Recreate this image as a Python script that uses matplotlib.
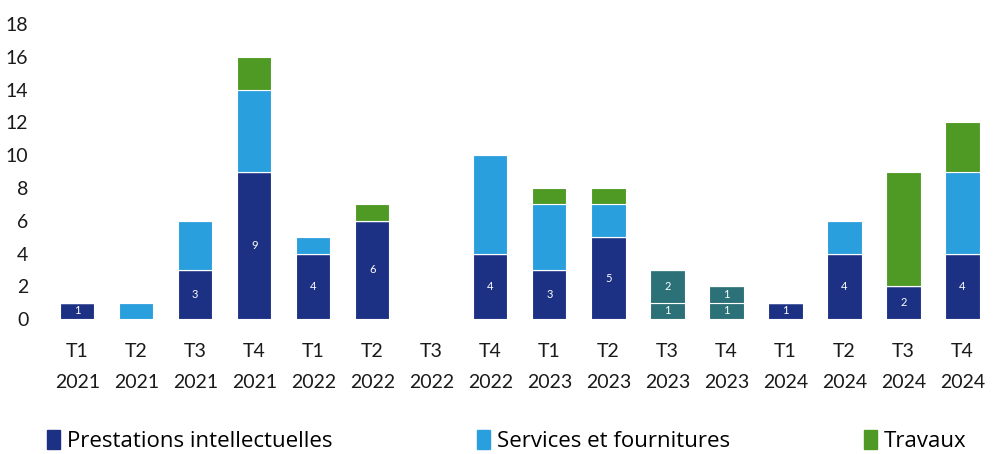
import matplotlib
matplotlib.use("Agg")
import matplotlib.pyplot as plt
import numpy as np
from matplotlib.patches import Patch

categories = ["T1\n2021", "T2\n2021", "T3\n2021", "T4\n2021",
              "T1\n2022", "T2\n2022", "T3\n2022", "T4\n2022",
              "T1\n2023", "T2\n2023", "T3\n2023", "T4\n2023",
              "T1\n2024", "T2\n2024", "T3\n2024", "T4\n2024"]
prestations = [1, 0, 3, 9, 4, 6, 0, 4, 3, 5, 0, 0, 1, 4, 2, 4]
services    = [0, 1, 3, 5, 1, 0, 0, 6, 4, 2, 0, 0, 0, 2, 0, 5]
travaux     = [0, 0, 0, 2, 0, 1, 0, 0, 1, 1, 0, 0, 0, 0, 7, 3]
autres_bas  = [0, 0, 0, 0, 0, 0, 0, 0, 0, 0, 1, 1, 0, 0, 0, 0]
autres_haut = [0, 0, 0, 0, 0, 0, 0, 0, 0, 0, 2, 1, 0, 0, 0, 0]
yticks = [0, 2, 4, 6, 8, 10, 12, 14, 16, 18]
legend_labels = ["Prestations intellectuelles", "Services et fournitures", "Travaux"]

c_pi = "#1c3184"
c_sf = "#2a9fdd"
c_tr = "#4f9a25"
c_au = "#2b7177"

plt.rcParams['font.family'] = ['Lato', 'DejaVu Sans']

fig = plt.figure(figsize=(9.94, 4.54), dpi=100)
ax = fig.add_axes([0.048, 0.297, 0.950, 0.650])

x = np.arange(len(categories))
w = 0.58
pi = np.array(prestations, float)
sf = np.array(services, float)
tr = np.array(travaux, float)
ab = np.array(autres_bas, float)
ah = np.array(autres_haut, float)

b_pi = ax.bar(x, pi, w, color=c_pi, edgecolor="white", linewidth=0.8)
b_ab = ax.bar(x, ab, w, bottom=pi, color=c_au, edgecolor="white", linewidth=0.8)
b_ah = ax.bar(x, ah, w, bottom=pi + ab, color=c_au, edgecolor="white", linewidth=0.8)
b_sf = ax.bar(x, sf, w, bottom=pi + ab + ah, color=c_sf, edgecolor="white", linewidth=0.8)
b_tr = ax.bar(x, tr, w, bottom=pi + ab + ah + sf, color=c_tr, edgecolor="white", linewidth=0.8)

def label(bars, vals, bottoms):
    for b, v, bt in zip(bars, vals, bottoms):
        if v > 0:
            ax.text(b.get_x() + b.get_width() / 2, bt + v / 2, f"{int(v)}",
                    ha="center", va="center", color="white", fontsize=8)

label(b_pi, pi, np.zeros_like(pi))
label(b_ab, ab, pi)
label(b_ah, ah, pi + ab)

ax.set_xlim(-0.5, len(categories) - 0.5)
ax.set_ylim(0, 18)
ax.set_yticks(yticks)
ax.set_yticklabels([str(t) for t in yticks], fontsize=14)
ax.set_xticks(x)
ax.set_xticklabels(categories, fontsize=14, linespacing=2.0)
ax.tick_params(axis="both", length=0, colors="#1a1a1a")
ax.tick_params(axis="x", pad=17)
ax.tick_params(axis="y", pad=14)
for s in ax.spines.values():
    s.set_visible(False)

colors = [c_pi, c_sf, c_tr]
xpos = [0.047, 0.480, 0.869]
for c, lab, xp in zip(colors, legend_labels, xpos):
    fig.legend([Patch(color=c)], [lab], loc="center left", bbox_to_anchor=(xp, 0.028),
               frameon=False, handlelength=0.6, handleheight=0.9,
               handletextpad=0.3, borderaxespad=0, borderpad=0,
               prop={'family': ['Open Sans', 'DejaVu Sans'], 'size': 16})

fig.savefig("out.png", dpi=100, facecolor="white")
